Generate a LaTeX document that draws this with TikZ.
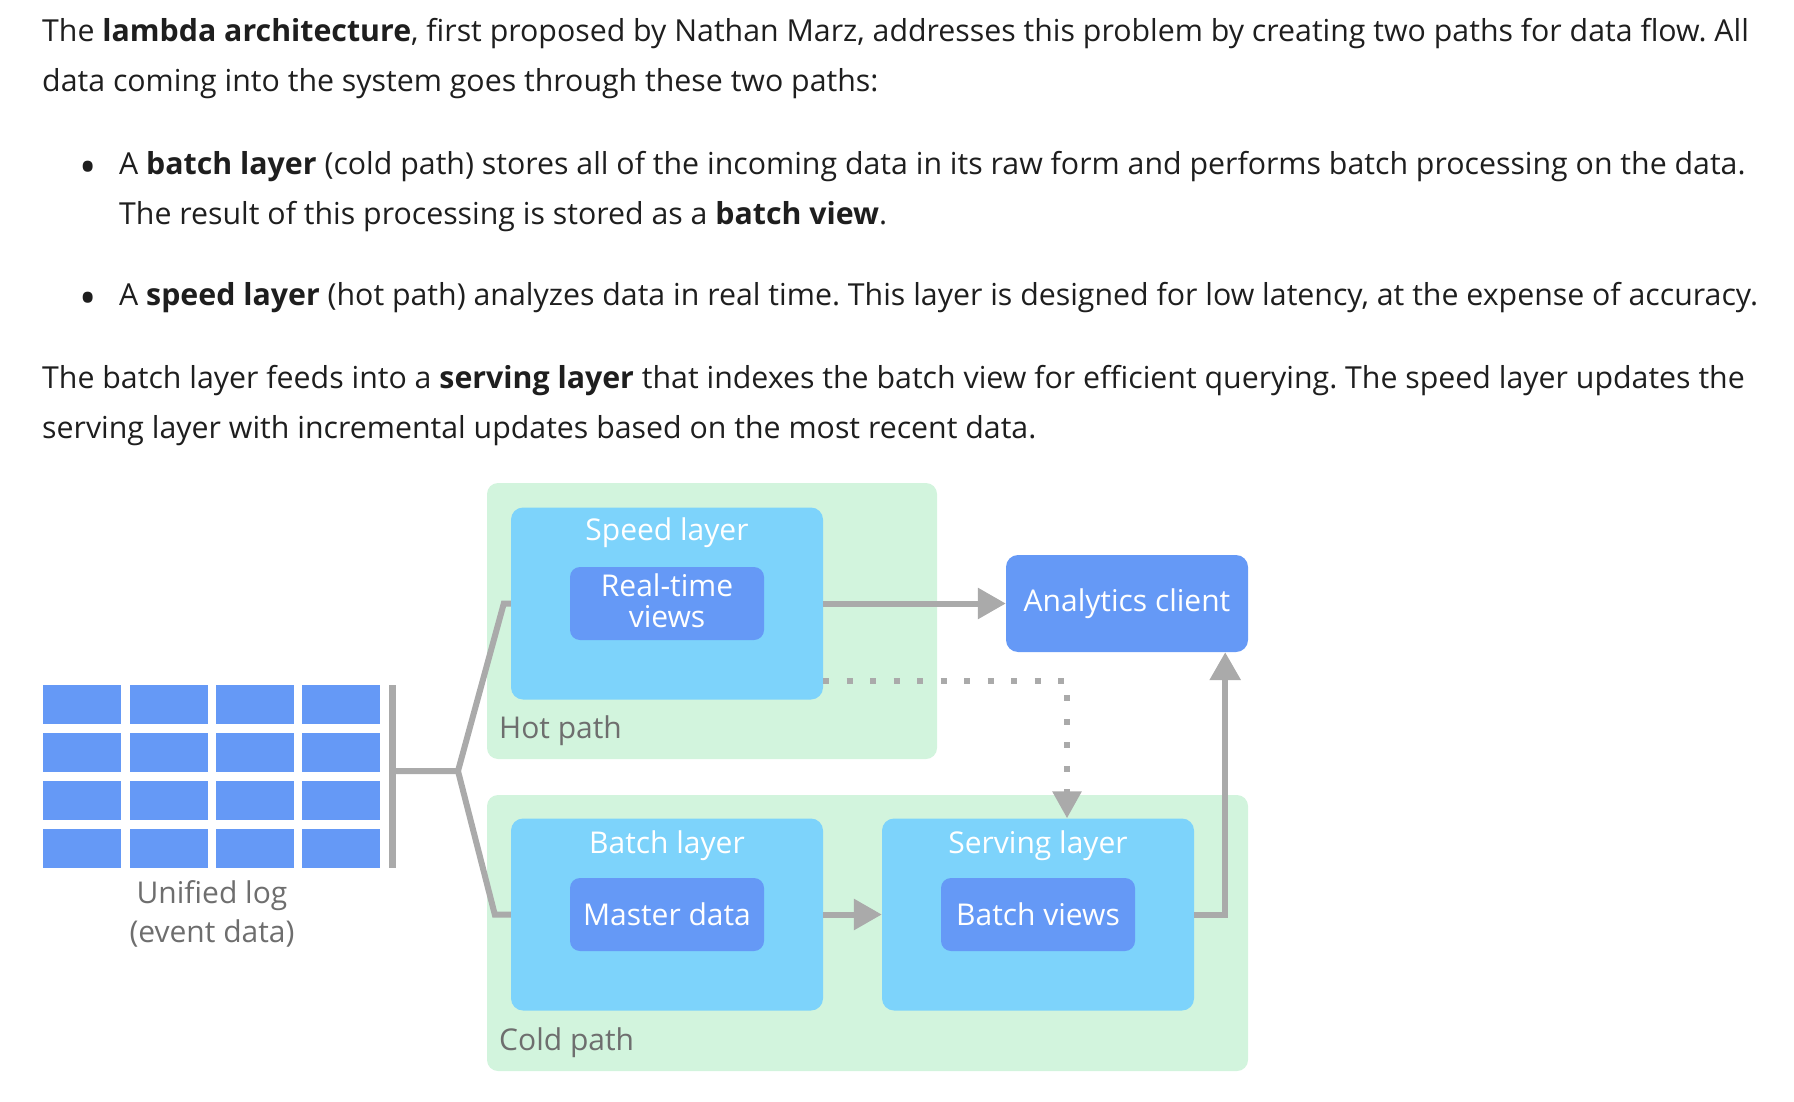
\documentclass[tikz,border=0pt]{standalone}
\usepackage{fontspec}
\setmainfont{Open Sans}
\usepackage{tikz}
\usetikzlibrary{positioning, arrows.meta, calc}
\frenchspacing

\definecolor{pathgreen}{HTML}{D2F4DD}
\definecolor{layerblue}{HTML}{7DD3FB}
\definecolor{viewblue}{HTML}{6599F6}
\definecolor{pipegray}{HTML}{AAAAAA}
\definecolor{labelgray}{HTML}{6E6E6E}
\definecolor{bodytext}{HTML}{1E1E1E}

\begin{document}
\begin{tikzpicture}[x=1pt, y=-1pt,
    para/.style={anchor=mid west, text=bodytext, inner sep=0, font=\fontsize{30.3}{36}\selectfont},
    bulletmark/.style={text=bodytext, inner sep=0, font=\fontsize{46}{46}\selectfont},
    pathbox/.style={fill=pathgreen, rounded corners=11pt, inner sep=0, minimum height=276pt},
    layerbox/.style={fill=layerblue, rounded corners=12pt, inner sep=0, minimum width=312pt, minimum height=192pt},
    viewbox/.style={fill=viewblue, rounded corners=10pt, inner sep=0, minimum width=194pt, minimum height=73pt, text=white, align=center, font=\fontsize{30}{31}\selectfont},
    title/.style={text=white, inner sep=0, align=center, font=\fontsize{30}{31}\selectfont},
    caption/.style={text=labelgray, inner sep=0, align=center, font=\fontsize{30}{39}\selectfont},
    cell/.style={fill=viewblue, inner sep=0, minimum width=78pt, minimum height=39pt},
    pipe/.style={draw=pipegray, line width=6pt},
    arrow/.style={pipe, -{Triangle[length=28pt, width=30pt]}},
    dots/.style={pipe, dash pattern=on 6pt off 17.5pt, -{Triangle[length=27pt, width=28pt]}}
]
\useasboundingbox (0,0) rectangle (1794,1102);

% Text
\node[para] (intro1) at (42,39) {The \textbf{lambda architecture}, first proposed by Nathan Marz, addresses this problem by creating two paths for data flow. All};
\node[para] (intro2) at (42,89) {data coming into the system goes through these two paths:};
\node[bulletmark] (dot1) at (88,172) {\textbullet};
\node[para] (batch1) at (119,172) {A \textbf{batch layer} (cold path) stores all of the incoming data in its raw form and performs batch processing on the data.};
\node[para] (batch2) at (119,222) {The result of this processing is stored as a \textbf{batch view}.};
\node[bulletmark] (dot2) at (88,303) {\textbullet};
\node[para] (speed1) at (119,303) {A \textbf{speed layer} (hot path) analyzes data in real time. This layer is designed for low latency, at the expense of accuracy.};
\node[para] (serve1) at (42,386) {The batch layer feeds into a \textbf{serving layer} that indexes the batch view for efficient querying. The speed layer updates the};
\node[para] (serve2) at (42,436) {serving layer with incremental updates based on the most recent data.};

% Paths
\node[pathbox, minimum width=450pt] (hot) at (712,621) {};
\node[pathbox, minimum width=761pt] (cold) at (867.5,933) {};

% Layers
\node[layerbox] (speed) at (667,603.5) {};
\node[layerbox] (batch) at (667,914.5) {};
\node[layerbox] (serving) at (1038,914.5) {};

\node[viewbox] (realtime) at (speed) {};
\node[title] (realtimetext) at ([yshift=3pt]realtime) {Real-time\\views};
\node[viewbox] (master) at (batch) {Master data};
\node[viewbox] (batchviews) at (serving) {Batch views};
\node[viewbox, minimum width=242pt, minimum height=97pt, rounded corners=12pt] (client) at (1127,603.5) {Analytics client};

% Labels
\node[title] (speedtitle) at (667,533) {Speed layer};
\node[title] (batchtitle) at (667,846) {Batch layer};
\node[title] (servingtitle) at (1038,846) {Serving layer};
\node[caption, anchor=west] (hotlabel) at (499,731) {Hot path};
\node[caption, anchor=west] (coldlabel) at (499,1043) {Cold path};
\node[caption] (loglabel) at (212,914) {Unified log\\(event data)};

% Unified log
\foreach \i in {0,...,3}
  \foreach \j in {0,...,3}
    \node[cell, anchor=north west] (cell-\i-\j) at ({43+86.3*\i}, {685+48*\j}) {};
\coordinate (bartop) at (392,685);
\coordinate (barbot) at (392,868);
\draw[draw=pipegray, line width=7pt] (bartop) -- (barbot);

% Connections
\coordinate (barmid) at (392,771);
\coordinate (fork) at (458,771);
\draw[pipe] (barmid) -- (fork) -- ([xshift=-7pt]speed.west) -- (speed.west);
\draw[pipe] (fork) -- ([xshift=-16pt]batch.west) -- (batch.west);
\draw[arrow] (speed) -- (client);
\draw[arrow] (batch) -- (serving);
\draw[arrow] (serving.east) -| ($(client.south east)+(-23,0)$);
\draw[dots] ([yshift=19pt]speed.south east) -| ($(serving.north)+(29,0)$);

\end{tikzpicture}
\end{document}
